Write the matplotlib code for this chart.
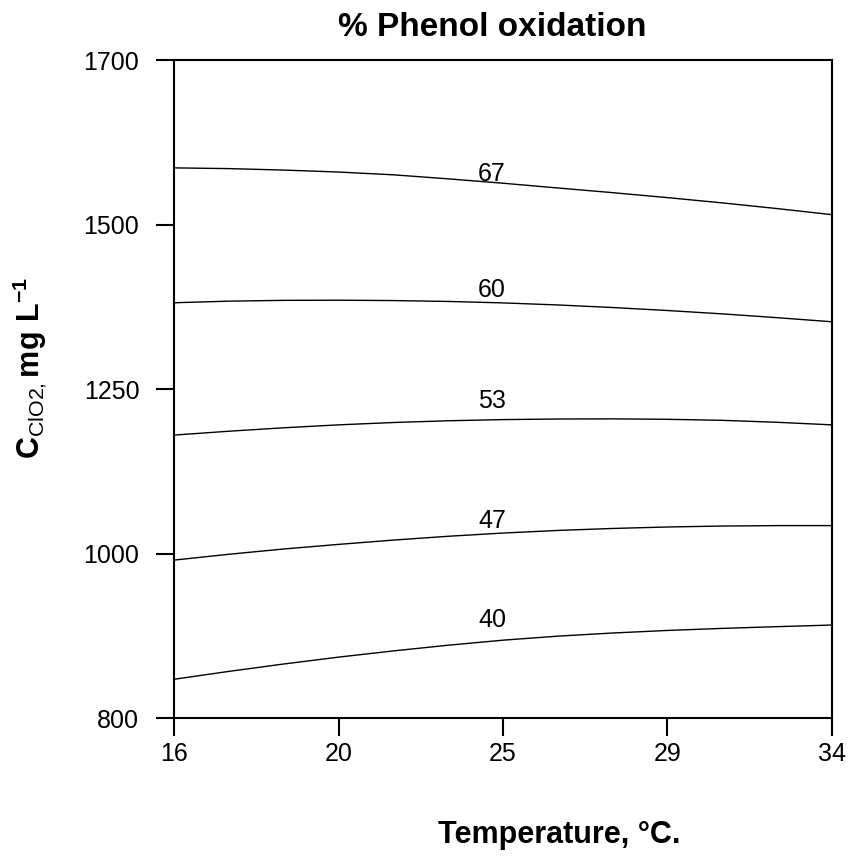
import matplotlib
matplotlib.use('Agg')
import matplotlib.pyplot as plt
import numpy as np

plt.rcParams['font.family'] = ['Liberation Sans', 'DejaVu Sans']
plt.rcParams['mathtext.fontset'] = 'custom'
plt.rcParams['mathtext.rm'] = 'Liberation Sans'
plt.rcParams['mathtext.bf'] = 'Liberation Sans:bold'

# Temperature nodes (°C) and ClO2 dose on each iso-response line (mg/L)
temp = [16, 17.5, 19, 20.5, 22, 23.5, 25, 26.5, 28, 29.5, 31, 32.5, 34]
levels = ['67', '60', '53', '47', '40']
conc_67 = [1552.5, 1551.5, 1549.5, 1546.8, 1543.0, 1537.5, 1531.5, 1525.0, 1518.6, 1511.8, 1504.6, 1496.8, 1488.5]
conc_60 = [1368.0, 1370.2, 1371.3, 1371.5, 1371.0, 1369.8, 1367.8, 1365.0, 1361.5, 1357.4, 1352.8, 1347.6, 1342.0]
conc_53 = [1187.0, 1192.3, 1197.0, 1201.0, 1204.2, 1206.6, 1208.2, 1209.0, 1209.2, 1208.6, 1207.2, 1204.5, 1201.0]
conc_47 = [1016.0, 1024.0, 1031.2, 1037.5, 1043.4, 1048.6, 1053.0, 1056.6, 1059.3, 1061.3, 1062.6, 1063.2, 1063.2]
conc_40 = [853.0, 863.8, 873.9, 883.3, 891.8, 899.6, 906.5, 912.0, 916.3, 919.8, 922.6, 925.0, 927.2]
label_temp = 24.7
label_conc = [1544, 1385, 1234, 1070, 934]

x_ticks = [16, 20, 25, 29, 34]
y_ticks = [800, 1000, 1250, 1500, 1700]

fig = plt.figure(figsize=(8.48, 8.65), dpi=100)
ax = fig.add_axes([0.2052, 0.1699, 0.7759, 0.7607])

for conc in [conc_67, conc_60, conc_53, conc_47, conc_40]:
    ax.plot(temp, conc, color='black', linewidth=1.0)

for lev, yc in zip(levels, label_conc):
    ax.text(label_temp, yc, lev, ha='center', va='center', fontsize=18)

ax.set_xlim(16, 34)
ax.set_ylim(800, 1700)
# ticks sit evenly along the axes, labels are the design levels
ax.set_xticks(np.linspace(16, 34, len(x_ticks)))
ax.set_xticklabels([str(t) for t in x_ticks])
ax.set_yticks(np.linspace(800, 1700, len(y_ticks)))
ax.set_yticklabels([str(t) for t in y_ticks])
ax.tick_params(direction='out', length=13, width=1.5, labelsize=18)
ax.tick_params(axis='x', pad=4)
ax.tick_params(axis='y', pad=12)

for s in ax.spines.values():
    s.set_linewidth(1.5)

fig.text(0.581, 0.968, '% Phenol oxidation', ha='center', va='center',
         fontsize=24, fontweight='bold')
fig.text(0.66, 0.035, 'Temperature, °C.', ha='center', va='center',
         fontsize=22, fontweight='bold')
fig.text(0.035, 0.575, r'$\mathbf{C}_{\mathrm{ClO2,}}\mathbf{mg\ L^{-1}}$',
         ha='center', va='center', rotation=90, fontsize=22)

plt.savefig('out.png', dpi=100)
